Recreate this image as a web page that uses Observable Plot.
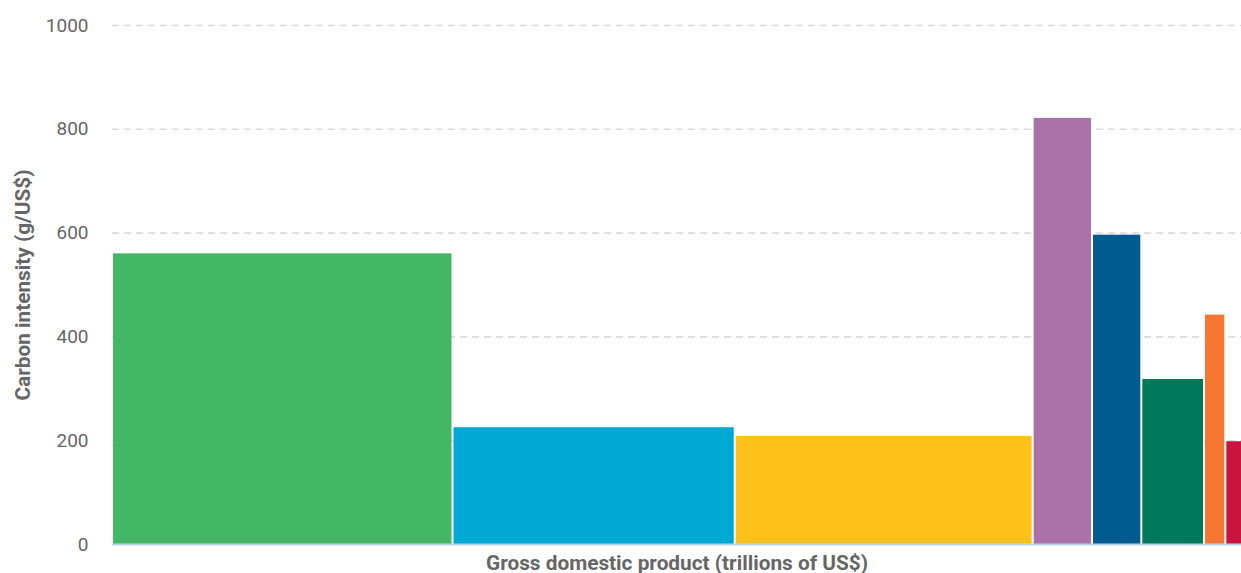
<!DOCTYPE html>
<html>
<head>
<meta charset="utf-8">
<script src="https://cdn.jsdelivr.net/npm/d3@7"></script>
<script src="https://cdn.jsdelivr.net/npm/@observablehq/plot@0.6"></script>
<style>
  html, body { margin: 0; padding: 0; background: #fff; }
  #chart svg { display: block; }
</style>
</head>
<body>
<div id="chart"></div>
<script>
// Economies (in drawing order), their GDP (bar width, trillions US$) and carbon intensity (g/US$)
const categories = ["Economy 1", "Economy 2", "Economy 3", "Economy 4", "Economy 5", "Economy 6", "Economy 7", "Economy 8"];
const gdp = [30.4, 25.2, 26.6, 5.3, 4.4, 5.6, 1.9, 3.0];
const carbonIntensity = [560, 225, 208, 821, 596, 318, 442, 198];
const colors = ["#43b766", "#00a9d4", "#fcc21b", "#ab72a9", "#005c8f", "#00785a", "#f47630", "#c8143f"];
const yTicks = [0, 200, 400, 600, 800, 1000];
const xDomain = [0, 100.8];

let acc = 0;
const data = categories.map((c, i) => {
  const x1 = acc;
  acc += gdp[i];
  return { name: c, x1, x2: acc, ci: carbonIntensity[i], color: colors[i] };
});

const chart = Plot.plot({
  width: 1241,
  height: 573,
  marginTop: 25,
  marginBottom: 29,
  marginLeft: 112,
  marginRight: 0,
  style: { fontFamily: "Roboto, sans-serif", fontSize: "18px", color: "#666", background: "#fff" },
  x: { domain: xDomain, axis: null },
  y: { domain: [0, 1000], axis: null },
  marks: [
    Plot.gridY(yTicks.filter(t => t > 0), { stroke: "#dcdcdc", strokeOpacity: 1, strokeWidth: 1.6, strokeDasharray: "7,5" }),
    Plot.axisY(yTicks, { tickSize: 0, tickPadding: 24, label: null, fontSize: 19, fill: "#666", tickFormat: d => String(d) }),
    Plot.rectY(data, { x1: "x1", x2: "x2", y: "ci", fill: "color", insetLeft: 1, insetRight: 1, clip: true }),
    Plot.ruleY([0], { stroke: "#bcd4ea", strokeWidth: 2 }),
    Plot.text(["Gross domestic product (trillions of US$)"], {
      frameAnchor: "bottom", dy: 25, fontWeight: "bold", fontSize: 20.8, fill: "#666", textAnchor: "middle"
    }),
    Plot.text(["Carbon intensity (g/US$)"], {
      frameAnchor: "left", dx: -89, rotate: -90, fontWeight: "bold", fontSize: 20.8, fill: "#666", textAnchor: "middle"
    })
  ]
});

document.getElementById("chart").appendChild(chart);
</script>
</body>
</html>
